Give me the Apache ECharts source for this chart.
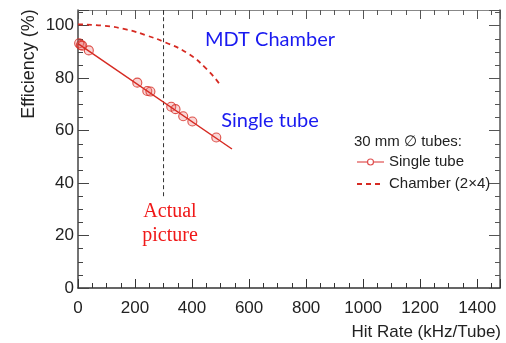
<!DOCTYPE html>
<html>
<head>
<meta charset="utf-8">
<script src="https://cdn.jsdelivr.net/npm/echarts@6/dist/echarts.min.js"></script>
<style>
html,body{margin:0;padding:0;background:#fff;}
#main{width:506px;height:343px;}
</style>
</head>
<body>
<div id="main"></div>
<script>
// 单管测量点 (Hit Rate kHz/Tube, Efficiency %)
var tubePoints = [[4,93.3],[10,92.6],[15,92.4],[38,90.6],[208,78.3],[243,75.1],[254,74.9],[327,69.1],[342,68.2],[369,65.5],[401,63.5],[485,57.4]];
// 单管拟合直线
var tubeFit = [[0,93.2],[540,53]];
// 腔室效率曲线 (2x4)
var chamberCurve = [[0,100.5],[90,100],[172,98.5],[243,96.2],[307,93.6],[383,89.6],[453,83.3],[500,77.2]];
// 实际位置竖线
var actualLine = [[300,35],[300,106]];
var xTicks = [0,200,400,600,800,1000,1200,1400];
var yTicks = [0,20,40,60,80,100];

var chart = echarts.init(document.getElementById('main'));
var red = '#d62a22';
var axisFont = 'Liberation Sans, Arial, sans-serif';
var legendFont = '15px Liberation Sans, Arial, sans-serif';

chart.setOption({
	animation: false,
	backgroundColor: '#fff',
	grid: {left: 78, top: 10, right: 6, bottom: 55},
	xAxis: [
		{
			type: 'value', min: 0, max: 1480, interval: 200,
			axisLine: {onZero: false, lineStyle: {color: '#333', width: 1.5}},
			axisTick: {inside: true, length: 9, lineStyle: {color: '#333'}},
			minorTick: {show: true, splitNumber: 4, length: 5, lineStyle: {color: '#333'}},
			splitLine: {show: false},
			axisLabel: {
				fontFamily: axisFont, fontSize: 17, color: '#222', margin: 12, showMaxLabel: false,
				formatter: function (v) { return xTicks.indexOf(v) >= 0 ? v : ''; }
			}
		},
		{
			type: 'value', position: 'top', min: 0, max: 1480, interval: 200,
			axisLine: {show: true, onZero: false, lineStyle: {color: '#888', width: 1}},
			axisTick: {inside: true, length: 9, lineStyle: {color: '#555'}},
			minorTick: {show: true, splitNumber: 4, length: 5, lineStyle: {color: '#555'}},
			splitLine: {show: false},
			axisLabel: {show: false}
		}
	],
	yAxis: [
		{
			type: 'value', min: 0, max: 106, interval: 20,
			axisLine: {show: true, onZero: false, lineStyle: {color: '#444', width: 1.5}},
			axisTick: {show: true, inside: true, length: 11, lineStyle: {color: '#444'}},
			minorTick: {show: true, splitNumber: 4, length: 5, lineStyle: {color: '#444'}},
			splitLine: {show: false},
			axisLabel: {
				fontFamily: axisFont, fontSize: 17, color: '#222', margin: 4, showMaxLabel: false,
				formatter: function (v) { return yTicks.indexOf(v) >= 0 ? v : ''; }
			}
		},
		{
			type: 'value', position: 'right', min: 0, max: 106, interval: 20,
			axisLine: {show: true, onZero: false, lineStyle: {color: '#555', width: 1.5}},
			axisTick: {show: true, inside: true, length: 11, lineStyle: {color: '#555'}},
			minorTick: {show: true, splitNumber: 4, length: 5, lineStyle: {color: '#555'}},
			splitLine: {show: false},
			axisLabel: {show: false}
		}
	],
	series: [
		{
			name: 'Chamber (2×4)',
			type: 'line',
			smooth: true,
			symbol: 'none',
			data: chamberCurve,
			lineStyle: {color: red, width: 1.8, type: [5, 4]}
		},
		{
			name: 'actual',
			type: 'line',
			symbol: 'none',
			data: actualLine,
			lineStyle: {color: '#333', width: 1, type: [4, 3]}
		},
		{
			name: 'Single tube',
			type: 'line',
			symbol: 'none',
			data: tubeFit,
			lineStyle: {color: red, width: 1.5}
		},
		{
			name: 'points',
			type: 'scatter',
			symbol: 'circle',
			symbolSize: 9,
			data: tubePoints,
			itemStyle: {color: 'rgba(235,110,110,0.35)', borderColor: red, borderWidth: 1.1}
		}
	],
	graphic: [
		// 图例
		{type: 'text', left: 354, top: 134, style: {text: '30 mm ∅ tubes:', font: legendFont, fill: '#222'}},
		{type: 'line', shape: {x1: 357, y1: 162, x2: 384, y2: 162}, style: {stroke: '#e05050', lineWidth: 1.2}},
		{type: 'circle', shape: {cx: 370.5, cy: 162, r: 3}, style: {fill: '#fff', stroke: '#e05050', lineWidth: 1.2}},
		{type: 'text', x: 389, y: 162, style: {text: 'Single tube', font: legendFont, fill: '#222', textVerticalAlign: 'middle'}},
		{type: 'line', shape: {x1: 357, y1: 184, x2: 384, y2: 184}, style: {stroke: red, lineWidth: 1.8, lineDash: [5, 4]}},
		{type: 'text', x: 389, y: 184, style: {text: 'Chamber (2×4)', font: legendFont, fill: '#222', textVerticalAlign: 'middle'}},
		// 注释
		{type: 'text', x: 270, y: 40, style: {text: 'MDT Chamber', font: '20px Lato, sans-serif', fill: '#1a1af0', textAlign: 'center', textVerticalAlign: 'middle'}},
		{type: 'text', x: 270, y: 121, style: {text: 'Single tube', font: '20px Lato, sans-serif', fill: '#1a1af0', textAlign: 'center', textVerticalAlign: 'middle'}},
		{type: 'text', x: 170, y: 212, style: {text: 'Actual', font: '20px Liberation Serif, serif', fill: '#f01818', textAlign: 'center', textVerticalAlign: 'middle'}},
		{type: 'text', x: 170, y: 236, style: {text: 'picture', font: '20px Liberation Serif, serif', fill: '#f01818', textAlign: 'center', textVerticalAlign: 'middle'}},
		// 坐标轴标题
		{type: 'text', x: 29, y: 64, rotation: Math.PI / 2, style: {text: 'Efficiency (%)', font: '18px Liberation Sans, Arial, sans-serif', fill: '#222', textAlign: 'center', textVerticalAlign: 'middle'}},
		{type: 'text', x: 501, y: 332, style: {text: 'Hit Rate (kHz/Tube)', font: '17px Liberation Sans, Arial, sans-serif', fill: '#222', textAlign: 'right', textVerticalAlign: 'middle'}}
	]
});
</script>
</body>
</html>
